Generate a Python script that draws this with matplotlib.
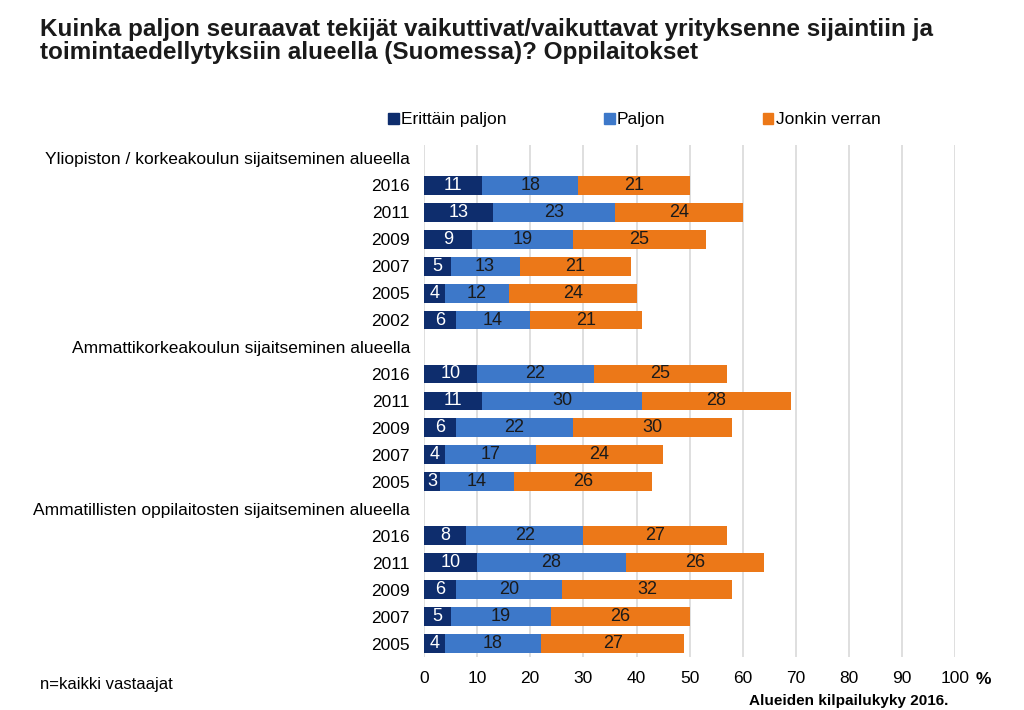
import numpy as np
import matplotlib.pyplot as plt
from matplotlib.patches import Patch

plt.rcParams['font.family'] = ['Liberation Sans', 'DejaVu Sans']

title = ('Kuinka paljon seuraavat tekijät vaikuttivat/vaikuttavat yrityksenne sijaintiin ja\n'
         'toimintaedellytyksiin alueella (Suomessa)? Oppilaitokset')

series_names = ['Erittäin paljon', 'Paljon', 'Jonkin verran']
colors = ['#0e2d6d', '#3d78c9', '#ec7818']
label_colors = ['white', '#1a1a1a', '#1a1a1a']

groups = ['Yliopiston / korkeakoulun sijaitseminen alueella',
          'Ammattikorkeakoulun sijaitseminen alueella',
          'Ammatillisten oppilaitosten sijaitseminen alueella']

years_1 = ['2016', '2011', '2009', '2007', '2005', '2002']
ep_1 = [11, 13, 9, 5, 4, 6]
p_1 = [18, 23, 19, 13, 12, 14]
jv_1 = [21, 24, 25, 21, 24, 21]

years_2 = ['2016', '2011', '2009', '2007', '2005']
ep_2 = [10, 11, 6, 4, 3]
p_2 = [22, 30, 22, 17, 14]
jv_2 = [25, 28, 30, 24, 26]

years_3 = ['2016', '2011', '2009', '2007', '2005']
ep_3 = [8, 10, 6, 5, 4]
p_3 = [22, 28, 20, 19, 18]
jv_3 = [27, 26, 32, 26, 27]

# build row list: header row (empty) then one row per year
labels = []
rows = []  # (ep, p, jv) or None
for g, yrs, a, b, c in [(groups[0], years_1, ep_1, p_1, jv_1),
                        (groups[1], years_2, ep_2, p_2, jv_2),
                        (groups[2], years_3, ep_3, p_3, jv_3)]:
    labels.append(g)
    rows.append(None)
    for i, y in enumerate(yrs):
        labels.append(y)
        rows.append((a[i], b[i], c[i]))

fig = plt.figure(figsize=(10.24, 7.1), dpi=100)
ax = fig.add_axes([0.414, 0.0746, 0.519, 0.7214])

ypos = np.arange(len(labels))
for k in range(3):
    for yi, r in zip(ypos, rows):
        if r is None:
            continue
        left = sum(r[:k])
        ax.barh(yi, r[k], left=left, height=0.7, color=colors[k], zorder=3)
        ax.text(left + r[k] / 2, yi, str(r[k]), ha='center', va='center',
                fontsize=13, color=label_colors[k], zorder=4)

ax.set_xlim(0, 100)
ax.set_ylim(len(labels) - 0.5, -0.5)
ax.set_xticks(np.arange(0, 101, 10))
ax.set_yticks(ypos)
ax.set_yticklabels(labels, fontsize=12.5)
ax.tick_params(axis='x', labelsize=12.5, length=0, pad=10)
ax.tick_params(axis='y', length=0, pad=10)
ax.grid(axis='x', color='#d9d9d9', linewidth=1.2, zorder=0)
for s in ax.spines.values():
    s.set_visible(False)

fig.text(0.953, 0.043, '%', fontsize=12.5, fontweight='bold', ha='left', va='center')

handles = [Patch(color=c) for c in colors]
fig.legend(handles, series_names, loc='center left', bbox_to_anchor=(0.364, 0.831),
           ncol=3, frameon=False, fontsize=12.5, handlelength=0.6, handleheight=0.6,
           handletextpad=0.15, columnspacing=5.6)

fig.text(0.039, 0.975, title, fontsize=17.5, fontweight='bold', ha='left', va='top',
         linespacing=1.0, color='#1a1a1a')
fig.text(0.039, 0.036, 'n=kaikki vastaajat', fontsize=12, ha='left', va='center')
fig.text(0.926, 0.007, 'Alueiden kilpailukyky 2016.', fontsize=11, fontweight='bold',
         ha='right', va='baseline')

fig.savefig('out.png', dpi=100)
